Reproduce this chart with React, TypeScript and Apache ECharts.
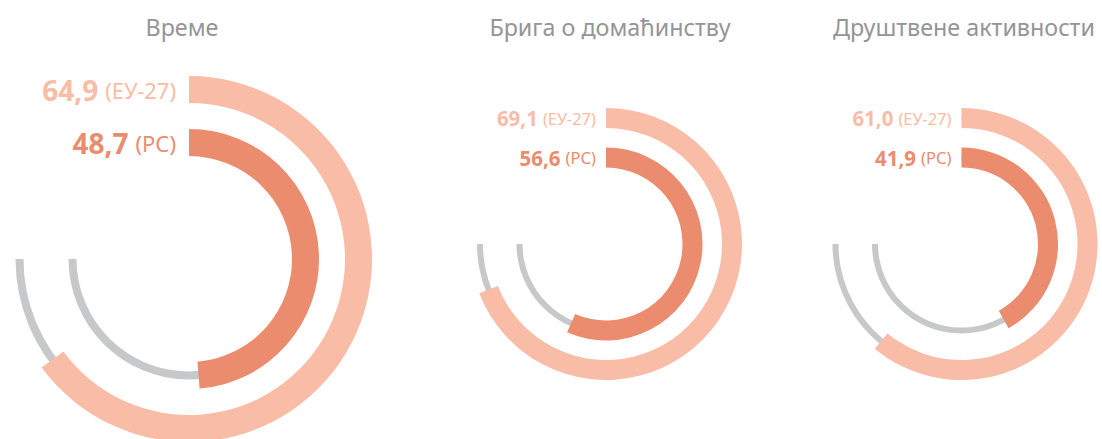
import React, { useEffect, useRef } from "react";
import * as echarts from "echarts";

const categories = ["Време", "Брига о домаћинству", "Друштвене активности"];
const euValues = [64.9, 69.1, 61.0];
const rsValues = [48.7, 56.6, 41.9];
const euLabel = "(ЕУ-27)";
const rsLabel = "(РС)";

const LIGHT = "#F9BCA6";
const DARK = "#EA8C6D";
const GRAY = "#C7C8CA";
const TITLE = "#939598";
const FONT = "'Noto Sans', 'Open Sans', sans-serif";

type Layout = {
  cx: number; cy: number;
  outerR: number; innerR: number; bandW: number;
  trackW: number;
  numSize: number; sufSize: number; gap: number; space: number;
  titleX: number;
};

const layouts: Layout[] = [
  { cx: 189, cy: 259, outerR: 183, innerR: 130, bandW: 27, trackW: 8, numSize: 28, sufSize: 22, gap: 13, space: 7, titleX: 182 },
  { cx: 606, cy: 244, outerR: 136, innerR: 96.5, bandW: 20, trackW: 6, numSize: 20.5, sufSize: 16.5, gap: 10, space: 5, titleX: 610 },
  { cx: 961.5, cy: 244, outerR: 136, innerR: 96.5, bandW: 20, trackW: 6, numSize: 20.5, sufSize: 16.5, gap: 10, space: 5, titleX: 964 },
];

const hidden = {
  axisTick: { show: false },
  splitLine: { show: false },
  axisLabel: { show: false },
  pointer: { show: false },
  anchor: { show: false },
  title: { show: false },
  detail: { show: false },
};

function track(l: Layout, r: number) {
  const mid = r - l.bandW / 2;
  return {
    type: "gauge",
    center: [l.cx, l.cy],
    radius: mid + l.trackW / 2,
    startAngle: 90,
    endAngle: -180,
    min: 0,
    max: 75,
    z: 2,
    silent: true,
    progress: { show: false },
    axisLine: { show: true, roundCap: false, lineStyle: { width: l.trackW, color: [[1, GRAY]] } },
    ...hidden,
    data: [{ value: 0 }],
  };
}

function bar(l: Layout, r: number, value: number, color: string) {
  return {
    type: "gauge",
    center: [l.cx, l.cy],
    radius: r,
    startAngle: 90,
    endAngle: -270,
    min: 0,
    max: 100,
    z: 3,
    silent: true,
    progress: { show: true, width: l.bandW, roundCap: false, itemStyle: { color } },
    axisLine: { show: false },
    ...hidden,
    data: [{ value }],
  };
}

function fmt(v: number) {
  return v.toFixed(1).replace(".", ",");
}

export default function App() {
  const ref = useRef<HTMLDivElement>(null);
  useEffect(() => {
    if (!ref.current) return;
    const chart = echarts.init(ref.current, null, { renderer: "svg" });
    const series: any[] = [];
    const graphics: any[] = [];
    layouts.forEach((l, i) => {
      series.push(track(l, l.outerR));
      series.push(track(l, l.innerR));
      series.push(bar(l, l.outerR, euValues[i], LIGHT));
      series.push(bar(l, l.innerR, rsValues[i], DARK));
      graphics.push({
        type: "text",
        x: l.titleX,
        y: 27,
        style: {
          text: categories[i],
          fill: TITLE,
          font: `400 23.3px ${FONT}`,
          align: "center",
          verticalAlign: "middle",
        },
      });
      const rows = [
        { v: euValues[i], s: euLabel, c: LIGHT, y: l.cy - l.outerR + l.bandW / 2 },
        { v: rsValues[i], s: rsLabel, c: DARK, y: l.cy - l.innerR + l.bandW / 2 },
      ];
      rows.forEach((row) => {
        graphics.push({
          type: "text",
          x: l.cx - l.gap,
          y: row.y,
          style: {
            text: `{n|${fmt(row.v)}}{s|${row.s}}`,
            align: "right",
            verticalAlign: "middle",
            rich: {
              n: { fontFamily: FONT, fontWeight: 700, fontSize: l.numSize, fill: row.c, color: row.c },
              s: {
                fontFamily: FONT, fontWeight: 400, fontSize: l.sufSize, fill: row.c, color: row.c,
                padding: [0, 0, 0, l.space],
              },
            },
          },
        });
      });
    });
    chart.setOption({
      animation: false,
      backgroundColor: "#ffffff",
      series,
      graphic: graphics,
    });
    return () => chart.dispose();
  }, []);
  return (
    <div
      ref={ref}
      style={{ position: "fixed", left: 0, top: 0, width: 1102, height: 439 }}
    />
  );
}
